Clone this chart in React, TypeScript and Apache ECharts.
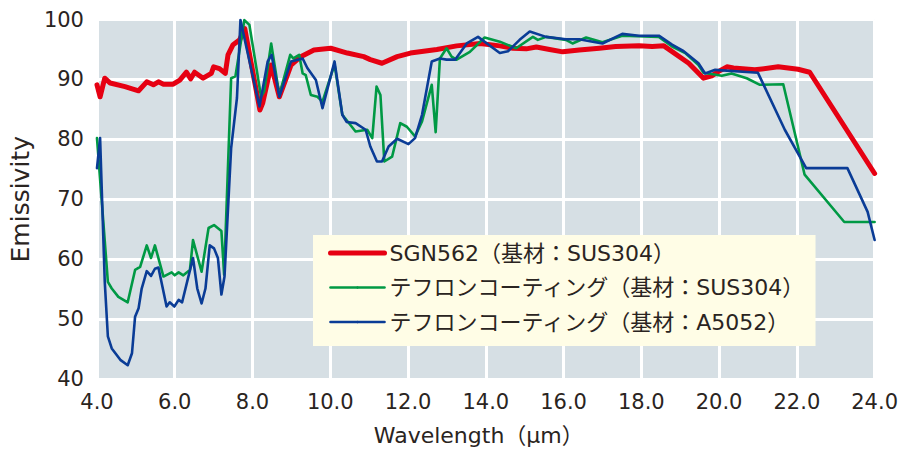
import React, { useEffect, useRef } from "react";
import * as echarts from "echarts";

const xTicks = ["4.0", "6.0", "8.0", "10.0", "12.0", "14.0", "16.0", "18.0", "20.0", "22.0", "24.0"];
const seriesNames = [
  "SGN562（基材：SUS304）",
  "テフロンコーティング（基材：SUS304）",
  "テフロンコーティング（基材：A5052）",
];

const sgnWave = [4.0, 4.08, 4.2, 4.34, 4.72, 5.07, 5.28, 5.45, 5.58, 5.71, 5.96, 6.13, 6.3, 6.41, 6.51, 6.73, 6.94, 7.0, 7.15, 7.3, 7.37, 7.5, 7.67, 7.8, 8.19, 8.26, 8.48, 8.69, 8.99, 9.24, 9.58, 10.01, 10.44, 10.86, 11.03, 11.33, 11.72, 12.06, 12.74, 13.25, 13.85, 14.36, 14.7, 15.04, 15.3, 15.64, 15.98, 16.4, 16.92, 17.34, 17.94, 18.28, 18.58, 19.22, 19.6, 19.81, 19.98, 20.2, 20.37, 20.92, 21.52, 22.03, 22.33, 24.0];
const sgnEmis = [89.1, 87.1, 90.2, 89.4, 88.8, 88.1, 89.6, 89.1, 89.6, 89.2, 89.2, 89.9, 91.2, 90.1, 91.2, 90.2, 91.0, 92.1, 91.8, 91.0, 94.1, 95.8, 96.6, 98.5, 84.9, 86.0, 92.4, 87.1, 92.4, 93.8, 94.9, 95.2, 94.4, 93.8, 93.3, 92.7, 93.8, 94.4, 95.0, 95.6, 96.0, 95.6, 95.2, 95.1, 95.4, 95.0, 94.6, 94.9, 95.2, 95.5, 95.6, 95.5, 95.6, 92.7, 90.2, 90.6, 91.3, 92.1, 91.9, 91.6, 92.1, 91.7, 91.2, 74.3];

const tefSusWave = [4.0, 4.28, 4.38, 4.55, 4.79, 4.98, 5.11, 5.28, 5.39, 5.49, 5.71, 5.92, 6.0, 6.1, 6.22, 6.39, 6.47, 6.69, 6.87, 7.01, 7.2, 7.27, 7.45, 7.56, 7.79, 7.92, 8.22, 8.3, 8.48, 8.69, 8.97, 9.05, 9.2, 9.29, 9.37, 9.5, 9.67, 9.8, 10.11, 10.31, 10.65, 10.95, 11.08, 11.19, 11.29, 11.39, 11.59, 11.8, 11.97, 12.18, 12.36, 12.61, 12.71, 12.82, 12.99, 13.12, 13.25, 13.59, 13.97, 14.36, 14.78, 15.21, 15.34, 15.55, 16.06, 16.23, 16.58, 17.0, 17.51, 18.45, 18.79, 19.13, 19.47, 19.6, 20.07, 20.32, 20.71, 21.05, 21.65, 22.2, 23.22, 24.0];
const tefSusEmis = [80.2, 56.2, 55.1, 53.7, 52.8, 58.2, 58.7, 62.3, 60.2, 62.3, 57.1, 57.8, 57.3, 57.8, 57.3, 58.2, 63.2, 57.9, 65.2, 65.7, 64.7, 57.4, 90.2, 90.5, 99.9, 99.1, 87.1, 88.0, 96.0, 87.4, 94.1, 93.5, 94.1, 91.0, 90.7, 87.4, 87.1, 86.3, 92.5, 84.1, 81.3, 81.6, 80.2, 88.8, 87.4, 76.3, 77.1, 82.7, 82.1, 80.5, 83.0, 89.1, 81.2, 93.5, 95.2, 93.8, 93.3, 94.6, 97.0, 96.3, 95.2, 97.1, 96.6, 97.1, 96.6, 96.0, 97.0, 96.2, 97.3, 97.1, 95.5, 94.4, 92.4, 91.1, 90.6, 91.0, 90.2, 89.1, 89.2, 74.1, 66.2, 66.2];

const tefAlWave = [4.0, 4.08, 4.2, 4.28, 4.38, 4.6, 4.79, 4.9, 4.98, 5.07, 5.15, 5.28, 5.39, 5.49, 5.58, 5.79, 5.87, 5.99, 6.1, 6.19, 6.34, 6.47, 6.58, 6.69, 6.79, 6.9, 7.01, 7.11, 7.2, 7.28, 7.45, 7.6, 7.69, 7.96, 8.18, 8.39, 8.49, 8.69, 8.99, 9.29, 9.41, 9.63, 9.8, 10.11, 10.31, 10.42, 10.65, 10.91, 11.03, 11.2, 11.33, 11.5, 11.72, 12.01, 12.18, 12.36, 12.61, 12.82, 12.99, 13.21, 13.51, 13.8, 14.36, 14.57, 14.87, 15.13, 15.55, 16.06, 16.4, 16.75, 17.0, 17.51, 17.94, 18.45, 18.79, 19.09, 19.47, 19.64, 19.9, 21.0, 21.69, 22.24, 23.3, 23.82, 24.0];
const tefAlEmis = [75.2, 80.2, 56.2, 47.1, 45.1, 43.2, 42.3, 44.3, 50.4, 51.8, 55.1, 58.0, 57.2, 58.4, 58.6, 52.1, 52.8, 52.1, 53.2, 52.8, 56.8, 60.2, 55.1, 52.6, 55.1, 62.3, 61.8, 60.2, 54.1, 57.1, 78.5, 86.9, 99.9, 91.9, 85.5, 93.0, 94.1, 87.1, 93.0, 93.5, 91.9, 89.9, 85.2, 93.0, 84.1, 82.9, 82.7, 81.6, 78.8, 76.3, 76.3, 78.8, 80.1, 79.2, 80.2, 84.1, 93.0, 93.5, 93.3, 93.3, 96.0, 97.1, 94.4, 94.7, 96.6, 98.0, 97.1, 96.7, 96.7, 96.3, 96.0, 97.6, 97.3, 97.3, 95.8, 94.7, 92.7, 91.0, 91.6, 91.1, 81.6, 75.2, 75.2, 67.9, 63.2];

const colors = ["#E60012", "#009944", "#0A3C96"];
const widths = [5, 2.6, 2.6];

const zip = (xs: number[], ys: number[]) => xs.map((x, i) => [x, ys[i]]);

export default function App() {
  const ref = useRef<HTMLDivElement>(null);
  useEffect(() => {
    if (!ref.current) return;
    const chart = echarts.init(ref.current, null, { renderer: "svg" });
    const textColor = "#2a2421";
    const dataSets = [zip(sgnWave, sgnEmis), zip(tefSusWave, tefSusEmis), zip(tefAlWave, tefAlEmis)];
    chart.setOption({
      animation: false,
      backgroundColor: "#ffffff",
      grid: {
        left: 95,
        right: 24,
        top: 19.5,
        bottom: 76,
        show: true,
        backgroundColor: "#D6DFE4",
        borderWidth: 0,
      },
      legend: {
        orient: "vertical",
        left: 313,
        top: 235,
        padding: [4, 10, 10, 15],
        backgroundColor: "#FFFDE6",
        itemWidth: 54,
        itemHeight: 3,
        itemGap: 6.5,
        textStyle: {
          fontSize: 22,
          lineHeight: 24,
          color: textColor,
          fontFamily: "DejaVu Sans, Noto Sans CJK JP",
          padding: [4, 0, 0, 0],
        },
        data: seriesNames.map((n, i) => ({
          name: n,
          lineStyle: { width: widths[i], color: colors[i] },
          itemStyle: { color: colors[i] },
        })),
      },
      xAxis: {
        type: "value",
        min: 4,
        max: 24,
        interval: 2,
        name: "Wavelength（μm）",
        nameLocation: "middle",
        nameGap: 45,
        nameTextStyle: {
          fontSize: 22,
          color: textColor,
          fontFamily: "DejaVu Sans, Noto Sans CJK JP",
          padding: [0, 14, 0, 0],
        },
        axisLine: { show: false },
        axisTick: { show: false },
        axisLabel: {
          fontSize: 21,
          color: textColor,
          fontFamily: "DejaVu Sans",
          margin: 12,
          formatter: (v: number) => xTicks[Math.round((v - 4) / 2)] ?? v.toFixed(1),
        },
        splitLine: { show: true, lineStyle: { color: "#ffffff", width: 3 } },
      },
      yAxis: {
        type: "value",
        min: 40,
        max: 100,
        interval: 10,
        name: "Emissivity",
        nameLocation: "middle",
        nameGap: 62,
        nameTextStyle: {
          fontSize: 25,
          color: textColor,
          fontFamily: "DejaVu Sans",
        },
        axisLine: { show: false },
        axisTick: { show: false },
        axisLabel: {
          fontSize: 21,
          color: textColor,
          fontFamily: "DejaVu Sans",
          margin: 13,
        },
        splitLine: { show: true, lineStyle: { color: "#ffffff", width: 3 } },
      },
      series: seriesNames.map((n, i) => ({
        name: n,
        type: "line",
        data: dataSets[i],
        symbol: "none",
        showSymbol: false,
        z: 2 + i,
        lineStyle: { color: colors[i], width: widths[i], cap: "round", join: "round" },
        itemStyle: { color: colors[i] },
      })),
    });
    return () => chart.dispose();
  }, []);
  return (
    <div
      ref={ref}
      style={{ position: "fixed", left: 0, top: 0, width: 901, height: 455 }}
    />
  );
}
